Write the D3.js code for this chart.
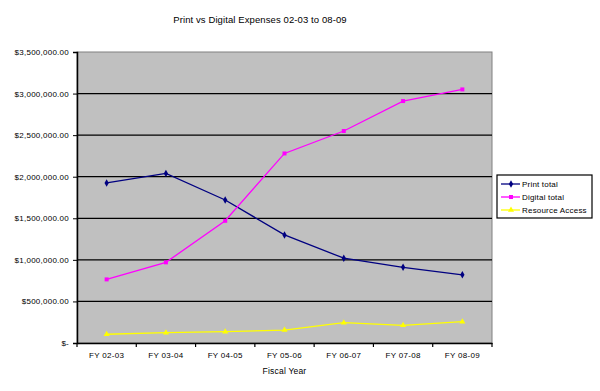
<!DOCTYPE html>
<html>
<head>
<meta charset="utf-8">
<script src="https://cdn.jsdelivr.net/npm/d3@7"></script>
<style>
body{margin:0;background:#fff;}
svg text{font-family:"Liberation Sans",Arial,sans-serif;fill:#000;}
</style>
</head>
<body>
<div id="chart"></div>
<script>
var years=['FY 02-03','FY 03-04','FY 04-05','FY 05-06','FY 06-07','FY 07-08','FY 08-09'];
var printTotal=[1925000,2040000,1720000,1300000,1020000,910000,820000];
var digitalTotal=[765000,970000,1470000,2280000,2550000,2910000,3050000];
var resourceAccess=[105000,124000,136000,156000,244000,213000,256000];
var yTicks=[0,500000,1000000,1500000,2000000,2500000,3000000,3500000];

var width=600,height=391;
var margin={top:52,right:108,bottom:48,left:77};
var w=width-margin.left-margin.right;
var h=height-margin.top-margin.bottom;

var svg=d3.select("#chart").append("svg")
          .attr("width",width)
          .attr("height",height);

svg.append("text")
   .attr("x",260).attr("y",23)
   .attr("text-anchor","middle")
   .style("font-size","9.5px")
   .style("letter-spacing","0.1px")
   .text("Print vs Digital Expenses 02-03 to 08-09");

var g=svg.append("g")
         .attr("transform","translate("+margin.left+","+margin.top+")");

// scales
var xscale=d3.scaleBand().domain(years).range([0,w]);
var yscale=d3.scaleLinear().domain([0,3500000]).range([h,0]);

g.append("rect")
 .attr("width",w).attr("height",h)
 .attr("fill","#c0c0c0")
 .attr("stroke","#808080")
 .attr("stroke-width",1);

// gridlines
g.selectAll(".grid")
 .data(yTicks.filter(function(d){return d>0&&d<3500000;}))
 .enter().append("line")
 .attr("x1",0).attr("x2",w)
 .attr("y1",function(d){return yscale(d);})
 .attr("y2",function(d){return yscale(d);})
 .attr("stroke","#000").attr("stroke-width",1.3);

var fmt=d3.format("$,.2f");
var yAxis=d3.axisLeft(yscale).tickValues(yTicks).tickSize(4).tickPadding(4)
            .tickFormat(function(d){return d===0?"$-":fmt(d);});
var ya=g.append("g").call(yAxis);
ya.select(".domain").attr("stroke","#000").attr("stroke-width",1.5);
ya.selectAll("text").style("font-size","8px").style("letter-spacing","0.25px")
  .style("font-family","Liberation Sans,Arial,sans-serif").attr("fill","#222");

var xAxis=d3.axisBottom(xscale).tickSize(0).tickPadding(9);
var xa=g.append("g").attr("transform","translate(0,"+h+")").call(xAxis);
xa.select(".domain").attr("stroke","#000").attr("stroke-width",1.5);
xa.selectAll("text").style("font-size","8px").style("letter-spacing","0.3px")
  .style("font-family","Liberation Sans,Arial,sans-serif").attr("fill","#222");
// ticks at category boundaries
xa.selectAll(".bound")
  .data(years.concat(["end"]))
  .enter().append("line")
  .attr("x1",function(d,i){return i*xscale.step();})
  .attr("x2",function(d,i){return i*xscale.step();})
  .attr("y1",0).attr("y2",4)
  .attr("stroke","#000").attr("stroke-width",1.2);

g.append("text")
 .attr("x",w/2).attr("y",h+31)
 .attr("text-anchor","middle")
 .style("font-size","8.5px")
 .style("letter-spacing","0.2px")
 .text("Fiscal Year");

var series=[
  {name:"Print total",values:printTotal,color:"#000080",sym:d3.symbolDiamond},
  {name:"Digital total",values:digitalTotal,color:"#ff00ff",sym:d3.symbolSquare},
  {name:"Resource Access",values:resourceAccess,color:"#ffff00",sym:d3.symbolTriangle}
];

var line=d3.line()
           .x(function(d,i){return xscale(years[i])+xscale.bandwidth()/2;})
           .y(function(d){return yscale(d);});

series.forEach(function(s){
  g.append("path")
   .attr("d",line(s.values))
   .attr("fill","none")
   .attr("stroke",s.color)
   .attr("stroke-width",1.3);
  g.selectAll(null)
   .data(s.values)
   .enter().append("path")
   .attr("d",d3.symbol().type(s.sym).size(16))
   .attr("transform",function(d,i){
      return "translate("+(xscale(years[i])+xscale.bandwidth()/2)+","+yscale(d)+")";})
   .attr("fill",s.color);
});

// legend
var lg=svg.append("g").attr("transform","translate(497,175)");
lg.append("rect").attr("width",95).attr("height",43)
  .attr("fill","#fff").attr("stroke","#000").attr("stroke-width",1.2);
series.forEach(function(s,i){
  var y=9+i*13;
  lg.append("line").attr("x1",4).attr("x2",23).attr("y1",y).attr("y2",y)
    .attr("stroke",s.color).attr("stroke-width",1.3);
  lg.append("path").attr("d",d3.symbol().type(s.sym).size(16))
    .attr("transform","translate(14,"+y+")").attr("fill",s.color);
  lg.append("text").attr("x",25).attr("y",y+3)
    .style("font-size","8px").style("letter-spacing","0.2px").text(s.name);
});
</script>
</body>
</html>
